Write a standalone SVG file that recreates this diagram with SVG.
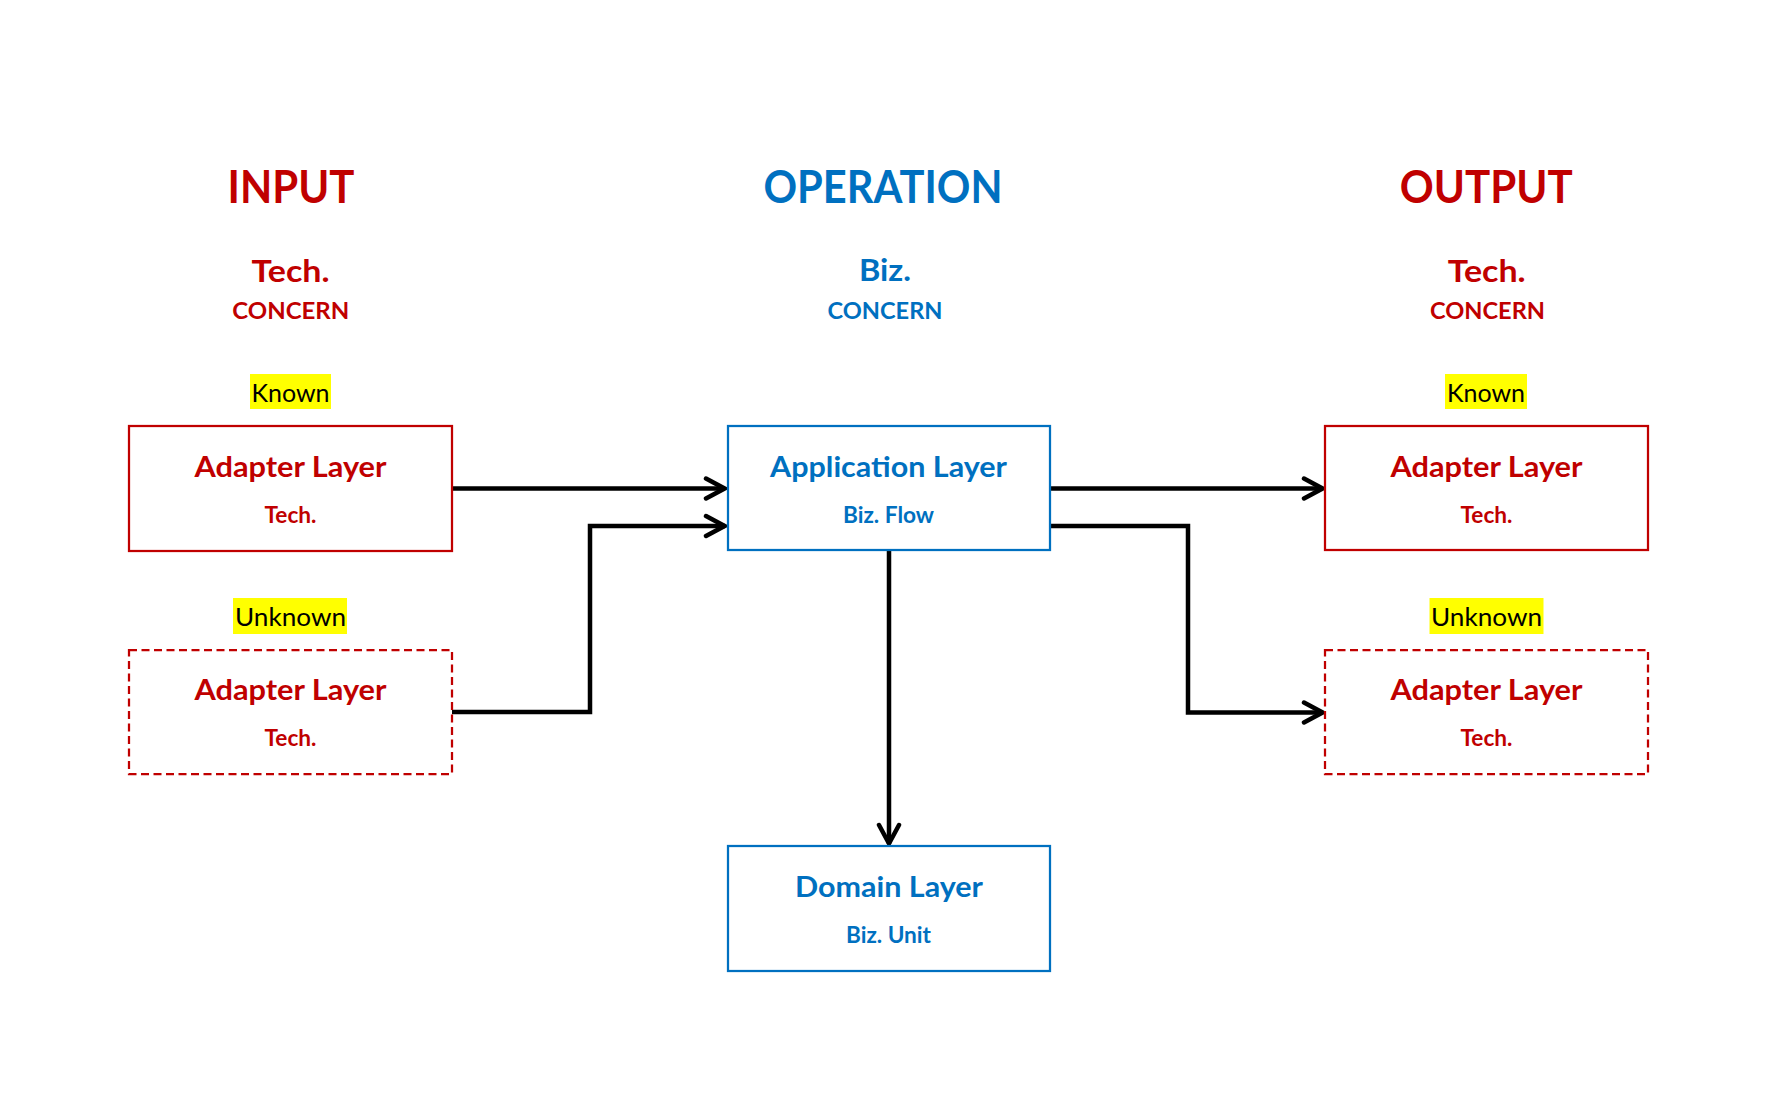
<svg xmlns="http://www.w3.org/2000/svg" width="1779" height="1108" viewBox="0 0 1779 1108">
<defs>
<style>
text{font-family:Lato,"Open Sans","Liberation Sans",sans-serif;text-anchor:middle;font-weight:bold}
.red{fill:#C00000}
.blue{fill:#0070C0}
.hdr{font-size:45px}
.sub{font-size:31px}
.con{font-size:22.5px}
.tag{font-size:25.5px;font-weight:normal;fill:#000}
.hl{fill:#FFFF00}
.t1{font-size:28px}
.t2{font-size:22.5px}
.boxr{fill:#fff;stroke:#C00000;stroke-width:2.25}
.boxb{fill:#fff;stroke:#0070C0;stroke-width:2.25}
.dash{stroke-dasharray:8 4.5}
.conn{fill:none;stroke:#000;stroke-width:4.5;stroke-linejoin:miter}
</style>
<marker id="arr" markerUnits="userSpaceOnUse" viewBox="-24 -14 28 28" refX="0" refY="0" markerWidth="28" markerHeight="28" orient="auto">
<path d="M-19,-10 L-0.5,0 L-19,10" fill="none" stroke="#000" stroke-width="4.5" stroke-linecap="round" stroke-linejoin="miter"/>
</marker>
</defs>
<rect width="1779" height="1108" fill="#fff"/>

<g id="headers">
<text class="red hdr" x="291" y="203" textLength="127" lengthAdjust="spacingAndGlyphs">INPUT</text>
<text class="red sub" x="290.5" y="282" textLength="78" lengthAdjust="spacingAndGlyphs">Tech.</text>
<text class="red con" x="290.8" y="318.5" textLength="117" lengthAdjust="spacingAndGlyphs">CONCERN</text>
<text class="blue hdr" x="883" y="203" textLength="239" lengthAdjust="spacingAndGlyphs">OPERATION</text>
<text class="blue sub" x="885" y="281" textLength="52" lengthAdjust="spacingAndGlyphs">Biz.</text>
<text class="blue con" x="885" y="318.5" textLength="115" lengthAdjust="spacingAndGlyphs">CONCERN</text>
<text class="red hdr" x="1486.3" y="203" textLength="173" lengthAdjust="spacingAndGlyphs">OUTPUT</text>
<text class="red sub" x="1486.7" y="282" textLength="78" lengthAdjust="spacingAndGlyphs">Tech.</text>
<text class="red con" x="1487.5" y="318.5" textLength="115" lengthAdjust="spacingAndGlyphs">CONCERN</text>
</g>

<g id="tags">
<rect class="hl" x="250" y="374" width="81" height="35"/>
<text class="tag" x="290.5" y="402" textLength="78" lengthAdjust="spacingAndGlyphs">Known</text>
<rect class="hl" x="233" y="598" width="114" height="36"/>
<text class="tag" x="290.5" y="626" textLength="111" lengthAdjust="spacingAndGlyphs">Unknown</text>
<rect class="hl" x="1445" y="374" width="82" height="35"/>
<text class="tag" x="1486" y="402" textLength="78" lengthAdjust="spacingAndGlyphs">Known</text>
<rect class="hl" x="1429.5" y="598" width="114" height="36"/>
<text class="tag" x="1486.5" y="626" textLength="111" lengthAdjust="spacingAndGlyphs">Unknown</text>
</g>

<g id="connectors">
<path class="conn" d="M452,488.5 H725" marker-end="url(#arr)"/>
<path class="conn" d="M452,712 H590 V526 H725" marker-end="url(#arr)"/>
<path class="conn" d="M1050,488.5 H1323" marker-end="url(#arr)"/>
<path class="conn" d="M1050,526 H1188 V712.5 H1323" marker-end="url(#arr)"/>
<path class="conn" d="M889,550 V844" marker-end="url(#arr)"/>
</g>

<g id="input-known">
<rect class="boxr" x="129" y="426" width="323" height="125"/>
<text class="red t1" x="290.5" y="477" textLength="192" lengthAdjust="spacingAndGlyphs">Adapter Layer</text>
<text class="red t2" x="290.5" y="523" textLength="52" lengthAdjust="spacingAndGlyphs">Tech.</text>
</g>

<g id="input-unknown">
<rect class="boxr dash" x="129" y="650" width="323" height="124"/>
<text class="red t1" x="290.5" y="700" textLength="192" lengthAdjust="spacingAndGlyphs">Adapter Layer</text>
<text class="red t2" x="290.5" y="746" textLength="52" lengthAdjust="spacingAndGlyphs">Tech.</text>
</g>

<g id="application">
<rect class="boxb" x="728" y="426" width="322" height="124"/>
<text class="blue t1" x="888.5" y="477" textLength="237" lengthAdjust="spacingAndGlyphs">Application Layer</text>
<text class="blue t2" x="888.5" y="523" textLength="91" lengthAdjust="spacingAndGlyphs">Biz. Flow</text>
</g>

<g id="domain">
<rect class="boxb" x="728" y="846" width="322" height="125"/>
<text class="blue t1" x="889" y="897" textLength="188" lengthAdjust="spacingAndGlyphs">Domain Layer</text>
<text class="blue t2" x="888.5" y="943" textLength="85" lengthAdjust="spacingAndGlyphs">Biz. Unit</text>
</g>

<g id="output-known">
<rect class="boxr" x="1325" y="426" width="323" height="124"/>
<text class="red t1" x="1486.5" y="477" textLength="192" lengthAdjust="spacingAndGlyphs">Adapter Layer</text>
<text class="red t2" x="1486.5" y="523" textLength="52" lengthAdjust="spacingAndGlyphs">Tech.</text>
</g>

<g id="output-unknown">
<rect class="boxr dash" x="1325" y="650" width="323" height="124"/>
<text class="red t1" x="1486.5" y="700" textLength="192" lengthAdjust="spacingAndGlyphs">Adapter Layer</text>
<text class="red t2" x="1486.5" y="746" textLength="52" lengthAdjust="spacingAndGlyphs">Tech.</text>
</g>
</svg>
